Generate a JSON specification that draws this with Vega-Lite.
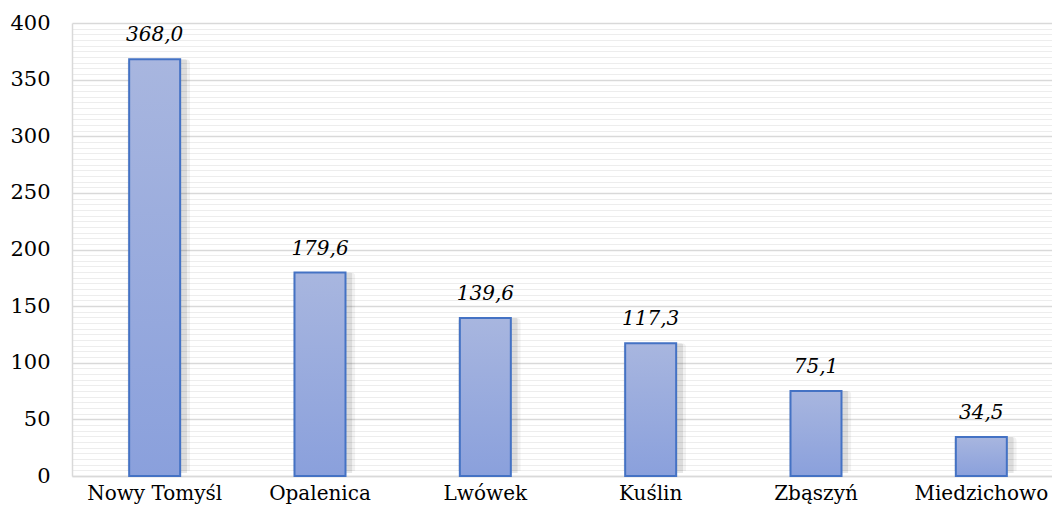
{
  "$schema": "https://vega.github.io/schema/vega-lite/v6.json",
  "autosize": {"type": "none"},
  "padding": {"left": 72, "top": 23, "right": 0, "bottom": 42},
  "width": 980,
  "height": 453,
  "background": "white",
  "config": {
    "locale": {"number": {"decimal": ",", "thousands": " ", "grouping": [3], "currency": ["", " zł"]}},
    "view": {"stroke": null},
    "font": "DejaVu Serif"
  },
  "data": {
    "values": [
      {"gmina": "Nowy Tomyśl", "value": 368.0},
      {"gmina": "Opalenica", "value": 179.6},
      {"gmina": "Lwówek", "value": 139.6},
      {"gmina": "Kuślin", "value": 117.3},
      {"gmina": "Zbąszyń", "value": 75.1},
      {"gmina": "Miedzichowo", "value": 34.5}
    ]
  },
  "encoding": {
    "x": {
      "field": "gmina", "type": "nominal", "sort": null,
      "scale": {"range": [0, 992], "paddingInner": 0, "paddingOuter": 0},
      "axis": {"title": null, "labelAngle": 0, "labelFont": "DejaVu Serif", "labelFontSize": 20, "labelColor": "#000000", "ticks": false, "domainColor": "#d9d9d9", "domainWidth": 1.5, "labelPadding": 7}
    },
    "y": {
      "field": "value", "type": "quantitative",
      "scale": {"domain": [0, 400], "nice": false},
      "axis": {
        "title": null,
        "values": [0,5,10,15,20,25,30,35,40,45,50,55,60,65,70,75,80,85,90,95,100,105,110,115,120,125,130,135,140,145,150,155,160,165,170,175,180,185,190,195,200,205,210,215,220,225,230,235,240,245,250,255,260,265,270,275,280,285,290,295,300,305,310,315,320,325,330,335,340,345,350,355,360,365,370,375,380,385,390,395,400],
        "labelExpr": "datum.value % 50 === 0 ? datum.label : ''",
        "format": "d",
        "grid": true,
        "gridColor": {"condition": {"test": "datum.value % 50 === 0", "value": "#d9d9d9"}, "value": "#ededed"},
        "gridWidth": {"condition": {"test": "datum.value % 50 === 0", "value": 1.5}, "value": 1},
        "ticks": false,
        "domainColor": "#d9d9d9",
        "domainWidth": 1.5,
        "labelFont": "DejaVu Serif",
        "labelFontSize": 21,
        "labelColor": "#000000",
        "labelPadding": 22
      }
    }
  },
  "layer": [
    {
      "mark": {"type": "bar", "width": 63, "xOffset": 4, "yOffset": -5, "color": "#000000", "opacity": 0.05, "cornerRadius": 4},
      "encoding": {}
    },
    {
      "mark": {"type": "bar", "width": 57, "xOffset": 4, "yOffset": -3, "color": "#000000", "opacity": 0.09, "cornerRadius": 2},
      "encoding": {}
    },
    {
      "mark": {
        "type": "bar", "width": 51,
        "color": {"gradient": "linear", "x1": 0, "y1": 0, "x2": 0, "y2": 1, "stops": [{"offset": 0, "color": "#a8b6df"}, {"offset": 1, "color": "#8aa0dc"}]},
        "stroke": "#4472c4", "strokeWidth": 2
      },
      "encoding": {}
    },
    {
      "mark": {"type": "text", "baseline": "bottom", "dy": -14, "font": "DejaVu Serif", "fontStyle": "italic", "fontSize": 20, "color": "#000000"},
      "encoding": {"text": {"field": "value", "type": "quantitative", "format": ".1f"}}
    }
  ]
}
